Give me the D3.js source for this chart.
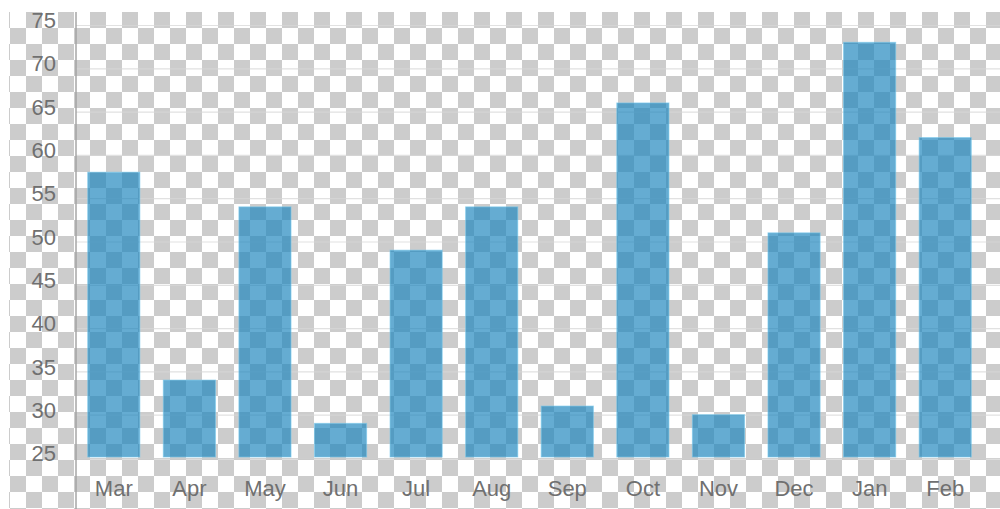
<!DOCTYPE html>
<html>
<head>
<meta charset="utf-8">
<script src="https://cdn.jsdelivr.net/npm/d3@7"></script>
<style>
  html, body { margin: 0; padding: 0; background: #fff; }
  svg { display: block; }
</style>
</head>
<body>
<svg id="chart" width="1000" height="509"></svg>
<script>
const months = ["Mar","Apr","May","Jun","Jul","Aug","Sep","Oct","Nov","Dec","Jan","Feb"];
const values = [58, 34, 54, 29, 49, 54, 31, 66, 30, 51, 73, 62];
const yTicks = [25, 30, 35, 40, 45, 50, 55, 60, 65, 70, 75];

(function () {
const W = 1000, H = 509;
const svg = d3.select("#chart");

// checkerboard background
const defs = svg.append("defs");
const pat = defs.append("pattern")
  .attr("id", "checker").attr("patternUnits", "userSpaceOnUse")
  .attr("x", 10).attr("y", 12).attr("width", 32).attr("height", 32);
pat.append("rect").attr("width", 32).attr("height", 32).attr("fill", "#ffffff");
pat.append("rect").attr("x", 16).attr("y", 0).attr("width", 16).attr("height", 16).attr("fill", "#cccccc");
pat.append("rect").attr("x", 0).attr("y", 16).attr("width", 16).attr("height", 16).attr("fill", "#cccccc");
svg.append("rect").attr("x", 9).attr("y", 12).attr("width", W - 9).attr("height", H - 12)
  .attr("fill", "url(#checker)");

const mLeft = 76, mRight = 983, mTop = 25, mBottom = 458;

const x = d3.scaleBand().domain(months).range([mLeft, mRight])
  .paddingInner(0.31).paddingOuter(0.155);
const y = d3.scaleLinear().domain([25, 75]).range([mBottom, mTop]);

// grid + y labels
const yAxis = svg.append("g").attr("transform", `translate(${mLeft},0)`)
  .call(d3.axisLeft(y).tickValues(yTicks).tickSize(-(W - mLeft)).tickPadding(20));
yAxis.select(".domain").remove();
yAxis.selectAll(".tick line").attr("stroke", "rgba(215,215,215,0.75)").attr("stroke-width", 1.2);
yAxis.selectAll(".tick text")
  .attr("font-family", "Liberation Sans, Arial, sans-serif")
  .attr("font-size", 22).attr("fill", "#707070")
  .attr("dy", "0.12em");

// bars
svg.append("g").selectAll("rect").data(months).join("rect")
  .attr("x", d => x(d))
  .attr("width", x.bandwidth())
  .attr("y", (d, i) => y(values[i]))
  .attr("height", (d, i) => y(25) - y(values[i]) - 1)
  .attr("fill", "rgba(28,132,188,0.68)")
  .attr("stroke", "rgba(120,200,235,0.6)")
  .attr("stroke-width", 1);

// x axis
const xAxis = svg.append("g").attr("transform", `translate(0,${mBottom + 1})`)
  .call(d3.axisBottom(x).tickSize(0).tickPadding(21));
xAxis.select(".domain").remove();
xAxis.selectAll(".tick text")
  .attr("font-family", "Liberation Sans, Arial, sans-serif")
  .attr("font-size", 22).attr("fill", "#707070");

svg.append("line").attr("x1", mLeft).attr("x2", W).attr("y1", mBottom + 1).attr("y2", mBottom + 1)
  .attr("stroke", "rgba(200,200,200,0.8)").attr("stroke-width", 1.5);
svg.append("line").attr("x1", mLeft).attr("x2", mLeft).attr("y1", 12).attr("y2", H)
  .attr("stroke", "rgba(160,160,160,0.7)").attr("stroke-width", 2);
})();
</script>
</body>
</html>
